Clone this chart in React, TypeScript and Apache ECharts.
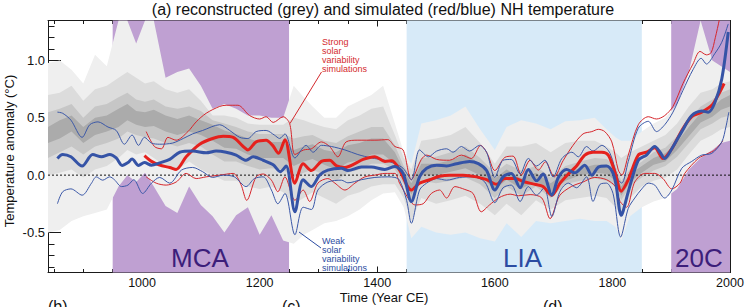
import React, { useEffect, useRef } from "react";
import * as echarts from "echarts";

// ---------- Data ----------
const xLabelValues = [1000, 1200, 1400, 1600, 1800, 2000];
const xMinorTicks = [850, 900, 950, 1000, 1050, 1100, 1150, 1200, 1250, 1300, 1350, 1400, 1450, 1500, 1550, 1600, 1650, 1700, 1750, 1800, 1850, 1900, 1950, 2000];
const yLabelValues = [-0.5, 0.0, 0.5, 1.0];
const yMinorTicks = [-0.8, -0.7, -0.6, -0.5, -0.4, -0.3, -0.2, -0.1, 0.0, 0.1, 0.2, 0.3, 0.4, 0.5, 0.6, 0.7, 0.8, 0.9, 1.0, 1.1, 1.2, 1.3];

const mcaSpan = [950, 1250];
const liaSpan = [1450, 1850];
const c20Span = [1900, 2000];

// grey reconstruction density bands
const bandYears = [840, 860, 880, 900, 920, 940, 960, 975, 990, 1005, 1020, 1040, 1060, 1080, 1100, 1120, 1140, 1160, 1180, 1200, 1220, 1240, 1258, 1275, 1290, 1310, 1330, 1350, 1370, 1390, 1410, 1430, 1445, 1458, 1475, 1500, 1525, 1550, 1575, 1600, 1620, 1645, 1670, 1695, 1720, 1745, 1770, 1790, 1805, 1815, 1830, 1850, 1870, 1890, 1910, 1930, 1950, 1970, 1985, 2000];
const outerLo = [-0.5, -0.48, -0.4, -0.36, -0.33, -0.3, -0.1, 0.0, -0.06, 0.02, -0.1, -0.27, -0.33, -0.1, -0.26, -0.36, -0.5, -0.35, -0.28, -0.52, -0.35, -0.57, -0.6, -0.52, -0.48, -0.42, -0.4, -0.36, -0.3, -0.22, -0.16, -0.15, -0.28, -0.55, -0.45, -0.5, -0.52, -0.5, -0.55, -0.58, -0.42, -0.54, -0.4, -0.42, -0.4, -0.38, -0.4, -0.4, -0.45, -0.57, -0.36, -0.28, -0.23, -0.2, -0.12, 0.05, 0.15, 0.22, 0.28, 0.3];
const outerHi = [0.98, 1.0, 0.92, 0.8, 1.05, 0.95, 1.35, 1.35, 1.15, 1.35, 1.35, 0.85, 0.9, 0.93, 0.78, 0.58, 0.62, 0.58, 0.52, 0.52, 0.5, 0.5, 0.78, 0.68, 0.6, 0.5, 0.5, 0.6, 0.65, 0.7, 0.78, 0.45, 0.2, 0.1, 0.45, 0.48, 0.52, 0.6, 0.4, 0.22, 0.42, 0.48, 0.45, 0.4, 0.47, 0.48, 0.5, 0.4, 0.33, 0.3, 0.3, 0.38, 0.45, 0.5, 0.62, 0.9, 1.35, 1.0, 0.95, 0.9];
const midLo = [0.0, 0.02, 0.05, -0.02, 0.05, 0.08, 0.15, 0.22, 0.18, 0.2, 0.15, 0.08, 0.05, 0.12, 0.05, 0.0, -0.05, -0.05, -0.1, -0.12, -0.1, -0.15, -0.25, -0.2, -0.15, -0.2, -0.25, -0.18, -0.15, -0.1, -0.08, -0.08, -0.2, -0.4, -0.2, -0.25, -0.22, -0.18, -0.25, -0.35, -0.25, -0.35, -0.22, -0.3, -0.22, -0.2, -0.18, -0.2, -0.28, -0.35, -0.2, -0.1, -0.05, -0.02, 0.05, 0.18, 0.3, 0.35, 0.4, 0.42];
const midHi = [0.7, 0.72, 0.78, 0.65, 0.75, 0.78, 0.85, 0.9, 0.85, 0.8, 0.82, 0.75, 0.72, 0.75, 0.65, 0.52, 0.52, 0.5, 0.45, 0.44, 0.44, 0.44, 0.5, 0.48, 0.45, 0.42, 0.4, 0.48, 0.52, 0.58, 0.6, 0.35, 0.15, 0.05, 0.3, 0.32, 0.35, 0.42, 0.28, 0.1, 0.25, 0.25, 0.28, 0.2, 0.28, 0.3, 0.3, 0.25, 0.2, 0.15, 0.2, 0.25, 0.3, 0.35, 0.45, 0.6, 0.72, 0.75, 0.8, 0.82];
const innerLo = [0.15, 0.2, 0.25, 0.18, 0.25, 0.28, 0.32, 0.38, 0.35, 0.33, 0.32, 0.28, 0.25, 0.28, 0.25, 0.18, 0.12, 0.12, 0.08, 0.05, 0.06, 0.05, -0.02, 0.02, 0.05, 0.0, -0.05, 0.02, 0.05, 0.1, 0.1, 0.05, -0.08, -0.25, -0.05, -0.07, -0.05, -0.02, -0.08, -0.2, -0.1, -0.18, -0.1, -0.2, -0.08, -0.05, -0.03, -0.05, -0.1, -0.22, -0.1, -0.02, 0.04, 0.08, 0.16, 0.28, 0.4, 0.45, 0.5, 0.52];
const innerHi = [0.55, 0.58, 0.62, 0.5, 0.6, 0.62, 0.68, 0.72, 0.66, 0.64, 0.66, 0.6, 0.58, 0.6, 0.56, 0.48, 0.45, 0.42, 0.38, 0.36, 0.36, 0.36, 0.32, 0.34, 0.35, 0.3, 0.28, 0.34, 0.38, 0.42, 0.42, 0.26, 0.08, -0.02, 0.15, 0.16, 0.2, 0.25, 0.15, 0.02, 0.1, 0.04, 0.08, -0.02, 0.08, 0.12, 0.15, 0.14, 0.08, -0.05, 0.05, 0.12, 0.2, 0.24, 0.34, 0.48, 0.6, 0.66, 0.72, 0.75];
const coreLo = [0.28, 0.32, 0.38, 0.28, 0.35, 0.38, 0.42, 0.48, 0.44, 0.42, 0.43, 0.38, 0.35, 0.38, 0.35, 0.3, 0.24, 0.23, 0.18, 0.15, 0.15, 0.15, 0.08, 0.12, 0.14, 0.09, 0.05, 0.11, 0.13, 0.18, 0.18, 0.1, -0.03, -0.17, 0.0, 0.0, 0.03, 0.06, 0.0, -0.13, -0.04, -0.12, -0.05, -0.15, -0.05, 0.0, 0.02, 0.01, -0.05, -0.18, -0.06, 0.02, 0.09, 0.12, 0.22, 0.34, 0.46, 0.51, 0.57, 0.6];
const coreHi = [0.42, 0.48, 0.52, 0.42, 0.5, 0.52, 0.58, 0.62, 0.56, 0.55, 0.57, 0.52, 0.49, 0.52, 0.48, 0.44, 0.39, 0.36, 0.32, 0.29, 0.29, 0.29, 0.22, 0.25, 0.27, 0.22, 0.2, 0.26, 0.28, 0.32, 0.32, 0.2, 0.04, -0.07, 0.1, 0.1, 0.13, 0.18, 0.1, -0.03, 0.05, -0.03, 0.02, -0.07, 0.02, 0.06, 0.09, 0.09, 0.02, -0.1, 0.01, 0.08, 0.15, 0.19, 0.29, 0.42, 0.54, 0.59, 0.66, 0.7];

// weak solar simulations (blue)
const weakMean: [number, number][] = [[856, 0.146], [865, 0.18], [879, 0.16], [898, 0.08], [916, 0.18], [931, 0.16], [945, 0.18], [956, 0.15], [966, 0.085], [976, 0.11], [983, 0.14], [994, 0.085], [1004, 0.11], [1016, 0.087], [1030, 0.107], [1047, 0.137], [1064, 0.2], [1086, 0.21], [1109, 0.195], [1126, 0.21], [1143, 0.2], [1160, 0.175], [1177, 0.13], [1189, 0.16], [1206, 0.13], [1223, 0.09], [1235, 0.03], [1245, 0.08], [1260, -0.32], [1274, -0.04], [1288, -0.1], [1302, 0.0], [1316, 0.044], [1339, 0.06], [1350, 0.04], [1373, 0.07], [1390, 0.07], [1413, 0.05], [1430, 0.075], [1444, 0.015], [1458, -0.23], [1472, -0.015], [1484, 0.06], [1501, 0.087], [1518, 0.08], [1535, 0.1], [1557, 0.12], [1572, 0.1], [1586, 0.04], [1600, -0.13], [1614, -0.015], [1628, 0.015], [1643, -0.11], [1657, 0.05], [1671, -0.05], [1682, 0.01], [1697, -0.175], [1708, -0.02], [1722, 0.05], [1736, 0.02], [1753, 0.087], [1765, 0.0], [1776, 0.07], [1790, 0.08], [1800, 0.03], [1806, -0.08], [1815, -0.35], [1827, -0.145], [1844, 0.13], [1858, 0.175], [1872, 0.25], [1881, 0.2], [1889, 0.145], [1901, 0.23], [1918, 0.38], [1935, 0.52], [1952, 0.56], [1963, 0.55], [1974, 0.63], [1986, 0.84], [1997, 1.25]];
const weakUpper: [number, number][] = [[856, 0.55], [865, 0.54], [879, 0.48], [898, 0.33], [911, 0.44], [925, 0.465], [942, 0.42], [956, 0.39], [970, 0.27], [983, 0.35], [994, 0.26], [1004, 0.33], [1016, 0.28], [1030, 0.27], [1052, 0.28], [1070, 0.32], [1086, 0.36], [1103, 0.39], [1132, 0.44], [1149, 0.39], [1166, 0.33], [1180, 0.32], [1194, 0.38], [1211, 0.39], [1225, 0.35], [1234, 0.32], [1243, 0.36], [1260, 0.15], [1279, 0.26], [1291, 0.2], [1305, 0.26], [1322, 0.25], [1345, 0.22], [1367, 0.18], [1390, 0.15], [1413, 0.13], [1430, 0.1], [1444, 0.06], [1458, -0.04], [1472, 0.22], [1487, 0.16], [1501, 0.21], [1518, 0.23], [1529, 0.2], [1543, 0.25], [1557, 0.21], [1574, 0.26], [1586, 0.2], [1600, -0.02], [1614, 0.13], [1628, 0.137], [1643, 0.01], [1657, 0.145], [1671, 0.08], [1685, 0.13], [1699, -0.015], [1714, 0.145], [1731, 0.2], [1742, 0.16], [1756, 0.25], [1767, 0.21], [1782, 0.26], [1796, 0.19], [1810, -0.04], [1816, -0.07], [1827, 0.12], [1844, 0.41], [1861, 0.47], [1875, 0.38], [1889, 0.44], [1903, 0.55], [1920, 0.74], [1937, 0.92], [1951, 1.02], [1960, 0.97], [1974, 1.06], [1986, 1.16], [1997, 1.32]];
const weakLower: [number, number][] = [[856, -0.25], [865, -0.145], [879, -0.12], [898, -0.175], [914, -0.07], [922, -0.015], [933, -0.044], [945, -0.015], [953, -0.04], [965, -0.1], [976, -0.087], [986, -0.04], [1001, -0.16], [1016, -0.07], [1030, -0.02], [1047, -0.07], [1067, 0.044], [1086, 0.067], [1103, 0.03], [1120, -0.02], [1138, 0.0], [1157, -0.015], [1177, -0.1], [1191, -0.03], [1206, -0.015], [1220, -0.13], [1231, -0.25], [1243, -0.16], [1260, -0.52], [1274, -0.28], [1288, -0.3], [1299, -0.13], [1316, -0.06], [1339, -0.044], [1350, -0.067], [1373, -0.04], [1396, -0.02], [1418, -0.015], [1430, -0.02], [1438, -0.044], [1450, -0.22], [1458, -0.42], [1472, -0.13], [1484, -0.07], [1501, -0.03], [1518, -0.044], [1540, -0.02], [1563, -0.015], [1583, -0.06], [1600, -0.24], [1614, -0.11], [1628, -0.087], [1643, -0.23], [1657, -0.1], [1671, -0.175], [1684, -0.11], [1697, -0.36], [1711, -0.14], [1725, -0.07], [1739, -0.11], [1756, -0.015], [1767, -0.23], [1779, -0.08], [1790, -0.07], [1801, -0.16], [1814, -0.54], [1827, -0.29], [1838, -0.2], [1850, -0.12], [1861, -0.07], [1872, -0.087], [1889, -0.2], [1901, -0.13], [1918, 0.06], [1935, 0.12], [1952, 0.175], [1969, 0.19], [1986, 0.29], [1993, 0.42], [1998, 0.55]];

// strong solar simulations (red)
const strongMean: [number, number][] = [[1004, 0.17], [1016, 0.12], [1030, 0.087], [1047, 0.067], [1058, 0.05], [1075, 0.16], [1098, 0.27], [1120, 0.32], [1138, 0.34], [1155, 0.33], [1172, 0.25], [1180, 0.22], [1194, 0.29], [1211, 0.305], [1222, 0.26], [1232, 0.19], [1243, 0.31], [1260, -0.07], [1274, 0.1], [1288, 0.04], [1305, 0.12], [1319, 0.13], [1331, 0.08], [1345, 0.067], [1362, 0.1], [1376, 0.137], [1396, 0.16], [1413, 0.12], [1425, 0.125], [1438, 0.044], [1458, -0.13], [1472, -0.07], [1489, -0.04], [1506, -0.01], [1523, 0.0], [1546, 0.0], [1569, -0.015], [1586, -0.04], [1603, -0.08], [1617, -0.03], [1634, -0.03], [1651, -0.06], [1668, -0.08], [1682, -0.1], [1697, -0.175], [1711, -0.07], [1725, 0.01], [1739, 0.08], [1753, 0.175], [1767, 0.2], [1782, 0.2], [1793, 0.175], [1804, 0.03], [1815, -0.14], [1827, -0.04], [1844, 0.175], [1858, 0.2], [1872, 0.24], [1886, 0.145], [1901, 0.23], [1918, 0.39], [1935, 0.51], [1952, 0.55], [1969, 0.61], [1980, 0.7], [1990, 0.8]];
const strongUpper: [number, number][] = [[1007, 0.38], [1021, 0.25], [1033, 0.23], [1044, 0.33], [1058, 0.305], [1078, 0.38], [1092, 0.465], [1109, 0.54], [1132, 0.6], [1143, 0.61], [1163, 0.61], [1183, 0.52], [1200, 0.49], [1211, 0.51], [1223, 0.46], [1240, 0.51], [1251, 0.45], [1260, 0.18], [1275, 0.22], [1288, 0.23], [1305, 0.29], [1319, 0.25], [1333, 0.16], [1347, 0.29], [1367, 0.305], [1396, 0.305], [1418, 0.31], [1430, 0.25], [1444, 0.22], [1458, -0.04], [1475, 0.137], [1484, 0.175], [1501, 0.137], [1523, 0.13], [1543, 0.175], [1560, 0.145], [1576, 0.26], [1587, 0.19], [1600, 0.04], [1617, 0.155], [1631, 0.166], [1645, 0.0], [1660, 0.13], [1674, 0.044], [1686, 0.116], [1701, -0.015], [1716, 0.125], [1733, 0.26], [1750, 0.36], [1765, 0.38], [1776, 0.4], [1787, 0.38], [1799, 0.29], [1810, 0.044], [1816, 0.0], [1827, 0.175], [1844, 0.44], [1861, 0.51], [1875, 0.49], [1889, 0.52], [1903, 0.6], [1920, 0.8], [1937, 0.97], [1949, 1.08], [1960, 1.05], [1968, 1.07], [1975, 1.2], [1982, 1.36], [1990, 1.55]];
const strongLower: [number, number][] = [[1007, -0.015], [1024, -0.07], [1041, -0.087], [1058, -0.06], [1075, 0.015], [1092, -0.03], [1109, -0.015], [1132, 0.0], [1155, 0.015], [1168, -0.08], [1178, -0.22], [1194, -0.015], [1206, 0.01], [1220, -0.044], [1231, -0.145], [1243, -0.015], [1260, -0.22], [1274, -0.13], [1285, -0.23], [1299, -0.07], [1316, -0.03], [1328, -0.07], [1345, -0.13], [1362, -0.07], [1379, -0.015], [1396, 0.0], [1413, 0.015], [1430, 0.015], [1438, -0.07], [1455, -0.22], [1464, -0.26], [1478, -0.25], [1492, -0.16], [1506, -0.13], [1518, -0.2], [1532, -0.1], [1549, -0.125], [1563, -0.16], [1577, -0.32], [1591, -0.26], [1606, -0.2], [1617, -0.175], [1626, -0.166], [1640, -0.18], [1660, -0.17], [1680, -0.2], [1694, -0.38], [1710, -0.18], [1730, -0.1], [1750, -0.06], [1770, -0.02], [1790, -0.04], [1805, -0.1], [1813, -0.23], [1824, -0.28], [1838, -0.06], [1855, 0.015], [1872, 0.015], [1886, -0.03], [1901, -0.12], [1915, -0.07], [1923, 0.015], [1946, 0.145], [1963, 0.19], [1974, 0.22], [1988, 0.3]];

const zeroLine: [number, number][] = [[840, 0], [2000, 0]];

// ---------- Styling ----------
const FONT = "'Liberation Sans', Arial, Helvetica, sans-serif";
const AXIS_COLOR = "#1a1a1a";
const PURPLE = "#bfa0d2";
const LIGHTBLUE = "#d7eaf8";
const RED_THICK = "#e5211d";
const RED_THIN = "#d6262c";
const BLUE_THICK = "#3553a6";
const BLUE_THIN = "#3b58a8";

function bandSeries(lo: number[], hi: number[], color: string) {
  return {
    type: "custom",
    coordinateSystem: "cartesian2d",
    xAxisIndex: 0,
    yAxisIndex: 0,
    silent: true,
    clip: true,
    z: 2,
    data: bandYears.map((yr, i) => [yr, lo[i], hi[i]]),
    encode: { x: 0, y: [1, 2] },
    renderItem: (params: any, api: any) => {
      if (params.dataIndex !== 0) return null;
      const top = bandYears.map((yr, i) => api.coord([yr, hi[i]]));
      const bot = bandYears.map((yr, i) => api.coord([yr, lo[i]])).reverse();
      return {
        type: "polygon",
        shape: { points: top.concat(bot) },
        style: { fill: color, stroke: null },
      };
    },
  };
}

function lineSeries(data: [number, number][], color: string, width: number, z: number) {
  return {
    type: "line",
    xAxisIndex: 0,
    yAxisIndex: 0,
    data,
    showSymbol: false,
    symbol: "none",
    smooth: 0.3,
    silent: true,
    clip: true,
    z,
    lineStyle: { color, width },
    emphasis: { disabled: true },
  };
}

function xAxisDef(position: string, major: boolean, showLine: boolean, showLabel: boolean) {
  return {
    type: "value",
    min: 840,
    max: 2000,
    position,
    axisLine: { show: showLine, onZero: false, lineStyle: { color: AXIS_COLOR, width: 1 } },
    axisTick: {
      show: true,
      inside: true,
      length: major ? 6 : 3.5,
      customValues: major ? xLabelValues : xMinorTicks,
      lineStyle: { color: AXIS_COLOR, width: 1 },
    },
    axisLabel: showLabel
      ? {
          show: true,
          customValues: xLabelValues,
          margin: 4,
          fontSize: 12.5,
          color: "#111",
          fontFamily: FONT,
          formatter: (v: number) => String(Math.round(v)),
        }
      : { show: false },
    splitLine: { show: false },
  };
}

function yAxisDef(position: string, major: boolean, showLine: boolean, showLabel: boolean) {
  return {
    type: "value",
    min: -0.85,
    max: 1.35,
    position,
    axisLine: { show: showLine, onZero: false, lineStyle: { color: AXIS_COLOR, width: 1 } },
    axisTick: {
      show: true,
      inside: true,
      length: major ? 13 : 6.5,
      customValues: major ? yLabelValues : yMinorTicks,
      lineStyle: { color: AXIS_COLOR, width: 1 },
    },
    axisLabel: showLabel
      ? {
          show: true,
          customValues: yLabelValues,
          margin: 3,
          fontSize: 13,
          color: "#111",
          fontFamily: FONT,
          formatter: (v: number) => v.toFixed(1),
        }
      : { show: false },
    splitLine: { show: false },
  };
}

const textEl = (text: string, x: number, y: number, opts: any = {}) => ({
  type: "text",
  x,
  y,
  z: 100,
  silent: true,
  rotation: opts.rotation || 0,
  style: {
    text,
    fill: opts.fill || "#111",
    fontSize: opts.fontSize || 13,
    fontFamily: FONT,
    align: opts.align || "left",
    verticalAlign: opts.verticalAlign || "middle",
    lineHeight: opts.lineHeight,
  },
});

const option: any = {
  animation: false,
  backgroundColor: "#ffffff",
  grid: { left: 48, top: 20.5, right: 20, bottom: 34.5 },
  xAxis: [
    xAxisDef("bottom", true, true, true),
    xAxisDef("bottom", false, false, false),
    xAxisDef("top", true, true, false),
    xAxisDef("top", false, false, false),
  ],
  yAxis: [
    yAxisDef("left", true, true, true),
    yAxisDef("left", false, false, false),
    yAxisDef("right", true, true, false),
    yAxisDef("right", false, false, false),
  ],
  series: [
    {
      type: "line",
      xAxisIndex: 0,
      yAxisIndex: 0,
      data: zeroLine,
      symbol: "none",
      silent: true,
      z: 1,
      lineStyle: { opacity: 0 },
      markArea: {
        silent: true,
        z: 1,
        data: [
          [{ xAxis: mcaSpan[0], itemStyle: { color: PURPLE } }, { xAxis: mcaSpan[1] }],
          [{ xAxis: liaSpan[0], itemStyle: { color: LIGHTBLUE } }, { xAxis: liaSpan[1] }],
          [{ xAxis: c20Span[0], itemStyle: { color: PURPLE } }, { xAxis: c20Span[1] }],
        ],
        itemStyle: { opacity: 1 },
        label: { show: false },
      },
    },
    bandSeries(outerLo, outerHi, "#efefef"),
    bandSeries(midLo, midHi, "#dcdcdc"),
    bandSeries(innerLo, innerHi, "#c6c6c6"),
    bandSeries(coreLo, coreHi, "#ababab"),
    {
      type: "line",
      xAxisIndex: 0,
      yAxisIndex: 0,
      data: zeroLine,
      symbol: "none",
      silent: true,
      z: 3,
      lineStyle: { color: "#111", width: 1, type: [2, 2] },
    },
    lineSeries(strongUpper, RED_THIN, 1, 4),
    lineSeries(strongLower, RED_THIN, 1, 4),
    lineSeries(weakUpper, BLUE_THIN, 1, 4),
    lineSeries(weakLower, BLUE_THIN, 1, 4),
    lineSeries(strongMean, RED_THICK, 3, 5),
    lineSeries(weakMean, BLUE_THICK, 3, 6),
  ],
  graphic: [
    textEl("(a) reconstructed (grey) and simulated (red/blue) NH temperature", 383, 9, { fontSize: 16, align: "center" }),
    textEl("Temperature anomaly (°C)", 9, 151, { rotation: Math.PI / 2, align: "center" }),
    textEl("Time (Year CE)", 384, 297, { align: "center" }),
    textEl("(b)", 48, 298, { fontSize: 16, verticalAlign: "top" }),
    textEl("(c)", 282, 298, { fontSize: 16, verticalAlign: "top" }),
    textEl("(d)", 543, 298, { fontSize: 16, verticalAlign: "top" }),
    textEl("MCA", 171, 258, { fontSize: 26, fill: "#3c1e7a" }),
    textEl("LIA", 503, 258, { fontSize: 26, fill: "#2c4ca2" }),
    textEl("20C", 675, 258, { fontSize: 26, fill: "#3c1e7a" }),
    textEl("Strong\nsolar\nvariability\nsimulations", 322, 37, { fontSize: 9, lineHeight: 9, fill: "#d42a2e", verticalAlign: "top" }),
    textEl("Weak\nsolar\nvariability\nsimulations", 322, 236, { fontSize: 9, lineHeight: 9, fill: "#2c4ca2", verticalAlign: "top" }),
    {
      type: "line",
      z: 100,
      silent: true,
      shape: { x1: 321.5, y1: 72, x2: 290, y2: 123.5 },
      style: { stroke: "#d42a2e", lineWidth: 1 },
    },
    {
      type: "line",
      z: 100,
      silent: true,
      shape: { x1: 321, y1: 248, x2: 299, y2: 232 },
      style: { stroke: "#2c4ca2", lineWidth: 1 },
    },
  ],
};

export default function App() {
  const ref = useRef<HTMLDivElement>(null);
  useEffect(() => {
    if (!ref.current) return;
    const chart = echarts.init(ref.current, null, { renderer: "svg" });
    chart.setOption(option);
    return () => {
      chart.dispose();
    };
  }, []);
  return (
    <div
      ref={ref}
      style={{ position: "absolute", left: 0, top: 0, width: 750, height: 307, background: "#fff" }}
    />
  );
}
